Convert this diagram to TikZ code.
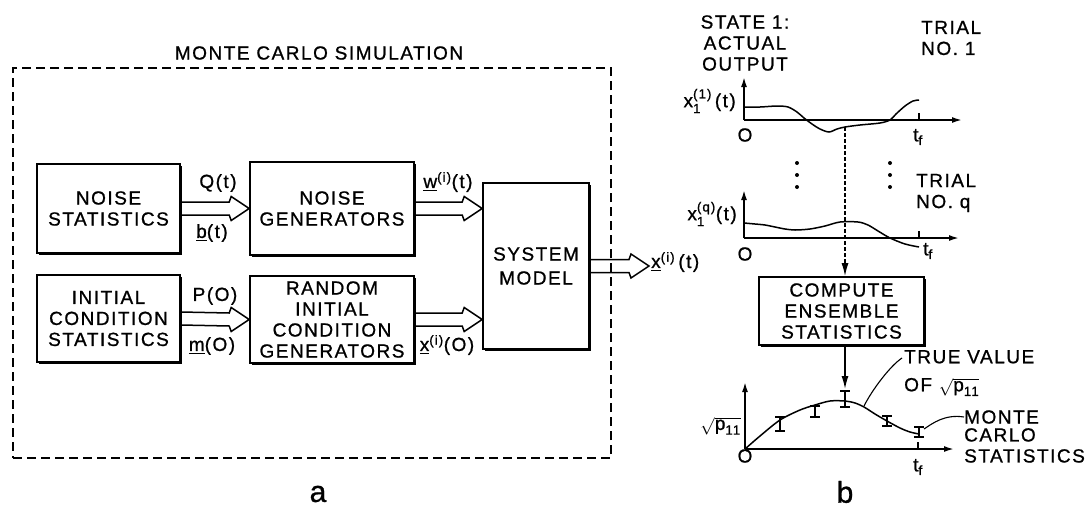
\documentclass[tikz,border=0pt]{standalone}
\usepackage{amsmath}
\usepackage{fontspec}
\setmainfont{Liberation Sans}[LetterSpace=8, UprightFeatures={FakeBold=0.9}]
\usetikzlibrary{positioning,arrows.meta,calc,shadows}
\tikzset{
  blockbox/.style={draw, line width=1.6pt, fill=white, align=center, inner sep=0pt,
    drop shadow={shadow xshift=1.8pt, shadow yshift=-1.8pt, opacity=1, fill=black}},
  simframe/.style={draw, dash pattern=on 9pt off 5pt, line width=1.4pt, inner sep=0pt},
  fatarrow/.style={line width=1.5pt, to path={
    ($(\tikztostart)+(0,-6.5)$) -- ($(\tikztotarget)+(-20,-6.5)$) -- ($(\tikztotarget)+(-18,-12)$)
    -- (\tikztotarget) -- ($(\tikztotarget)+(-18,12)$) -- ($(\tikztotarget)+(-20,6.5)$)
    -- ($(\tikztostart)+(0,6.5)$)}},
  axisarrow/.style={-{Latex[length=10pt,width=6pt]}, line width=1.7pt},
  feedarrow/.style={-{Latex[length=13pt,width=7pt]}, line width=1.4pt},
  tapline/.style={feedarrow, dash pattern=on 4pt off 2pt},
  trace/.style={line width=1.5pt, smooth},
  errbar/.style={line width=1.3pt},
  leader/.style={line width=1.1pt},
  lbl/.style={inner sep=0pt, align=center}
}

\begin{document}
\begin{tikzpicture}[x=1pt, y=-1pt, every node/.style={font=\fontsize{19}{21}\selectfont}]
  \useasboundingbox (0,0) rectangle (1091,509);

  \node[simframe, minimum width=598pt, minimum height=390pt] (sim) at (312,263) {};
  \node[lbl] (title) at (319,53) {MONTE CARLO SIMULATION};

  \node[blockbox, minimum width=143pt, minimum height=89pt] (noisestat) at (108.5,208.5) {NOISE\\STATISTICS};
  \node[blockbox, minimum width=164pt, minimum height=93pt] (noisegen) at (332,208.5) {NOISE\\GENERATORS};
  \node[blockbox, minimum width=143pt, minimum height=87pt] (initstat) at (108.5,318.5) {INITIAL\\CONDITION\\STATISTICS};
  \node[blockbox, minimum width=164pt, minimum height=87pt] (randgen) at (332,319.5) {RANDOM\\INITIAL\\CONDITION\\GENERATORS};
  \node[blockbox, minimum width=106pt, minimum height=166pt] (sysmodel) at (536,266) {SYSTEM\\[3pt]MODEL};
  \coordinate (outtip) at (649,266);

  \draw[fatarrow] (noisestat.east) to (noisegen.west);
  \draw[fatarrow] (initstat.east) to (randgen.west);
  \draw[fatarrow] (noisegen.east) to (noisegen.east -| sysmodel.west);
  \draw[fatarrow] (randgen.east) to (randgen.east -| sysmodel.west);
  \draw[fatarrow] (sysmodel.east) to (outtip);

  \node[lbl] (qlab) at (218,183) {Q(t)};
  \node[lbl] (blab) at (212,233) {\underline{b}(t)};
  \node[lbl] (plab) at (215,296) {P(O)};
  \node[lbl] (mlab) at (212,346) {\underline{m}(O)};
  \node[lbl] (wlab) at (448,182) {\underline{w}\textsuperscript{(i)}(t)};
  \node[lbl] (x0lab) at (447,345) {\underline{x}\textsuperscript{(i)}(O)};
  \node[lbl, anchor=west] (xoutlab) at (651,262) {\underline{x}\textsuperscript{(i)}\,(t)};

  \node[lbl] (state) at (745,43) {STATE 1:\\ACTUAL\\OUTPUT};
  \node[lbl, align=left, anchor=west] (trial1) at (921,38) {TRIAL\\NO. 1};
  \node[lbl, align=left, anchor=west] (trialq) at (916,193) {TRIAL\\NO. q};

  \coordinate (o1) at (744,120);
  \coordinate (o2) at (744,238);
  \coordinate (o3) at (745,449);
  \draw[axisarrow] (o1) -- (744,77);
  \draw[axisarrow] (o1) -- (962,120);
  \draw[axisarrow] (o2) -- (744,190);
  \draw[axisarrow] (o2) -- (959,238);
  \draw[axisarrow] (o3) -- (745,382);
  \draw[axisarrow] (o3) -- (954,449);
  \draw[line width=1.2pt] (919,113) -- (919,120) (919,231) -- (919,238) (918,442) -- (918,449);

  \node[lbl, anchor=east] (x1lab) at (736,101) {$\text{x}^{\text{(1)}}_{\text{1}}\,\text{(t)}$};
  \node[lbl, anchor=east] (xqlab) at (737,214) {$\text{x}^{\text{(q)}}_{\text{1}}\text{(t)}$};
  \node[lbl, anchor=east] (plab3) at (741,426) {$\sqrt{\text{p}_{\text{11}}}$};
  \node[lbl] (zero1) at (745,135) {O};
  \node[lbl] (zero2) at (745,254) {O};
  \node[lbl] (zero3) at (745,456) {O};
  \node[lbl] (tf1) at (918,137) {t\textsubscript{f}};
  \node[lbl] (tf2) at (928,251) {t\textsubscript{f}};
  \node[lbl] (tf3) at (918,467) {t\textsubscript{f}};

  \draw[trace] plot coordinates {(744,107) (760,107) (777,106) (788,107) (797,112) (804,118) (812,124)
    (820,129) (829,132) (837,129) (845,127) (860,125) (880,123) (890,120) (896,114) (905,106) (913,101) (919,100)};
  \draw[trace] plot coordinates {(744,223) (755,224) (765,225) (775,227) (785,229) (795,230) (810,229)
    (825,226) (840,222) (858,222) (868,225) (878,231) (890,238) (905,244) (919,247)};
  \draw[trace] plot coordinates {(745,449) (760,436) (780,420) (800,410) (815,405) (830,401) (845,401)
    (855,403) (864,407) (875,414) (887,421) (900,428) (910,432) (919,434)};

  \foreach \dx in {797,890}
    \foreach \dy in {163,175,187}
      \fill (\dx,\dy) circle (2);

  \foreach \bx/\ba/\bb in {780/417/431, 815/406/417, 845/391/407, 887/416/426, 919/427/437}
    \draw[errbar] (\bx-5,\ba) -- (\bx+5,\ba) (\bx,\ba) -- (\bx,\bb) (\bx-5,\bb) -- (\bx+5,\bb);

  \node[blockbox, minimum width=165pt, minimum height=68pt] (compute) at (841.5,311) {COMPUTE\\ENSEMBLE\\STATISTICS};
  \coordinate (tap) at (845,127);
  \coordinate (peak) at (845,389);
  \draw[tapline] (tap) -- (tap |- compute.north);
  \draw[feedarrow] (tap |- compute.south) -- (peak);

  \node[lbl, align=left, anchor=north west] (trueval) at (904,350) {TRUE VALUE\\[7pt]OF $\sqrt{\text{p}_{\text{11}}}$};
  \node[lbl, anchor=west] (mc1) at (964,417) {MONTE};
  \node[lbl, align=left, anchor=north west] (mc2) at (964,428) {CARLO\\STATISTICS};
  \coordinate (tvstart) at (902,358);
  \coordinate (truept) at (864,406);
  \coordinate (mcpt) at (924,429);
  \draw[leader] (tvstart) .. controls (890,366) and (872,390) .. (truept);
  \draw[leader] (mc1.west) .. controls (945,414) and (933,423) .. (mcpt);

  \node[lbl, font=\fontsize{30}{34}\selectfont] (apart) at (318,494) {a};
  \node[lbl, font=\fontsize{30}{34}\selectfont] (bpart) at (845,492) {b};
\end{tikzpicture}
\end{document}
